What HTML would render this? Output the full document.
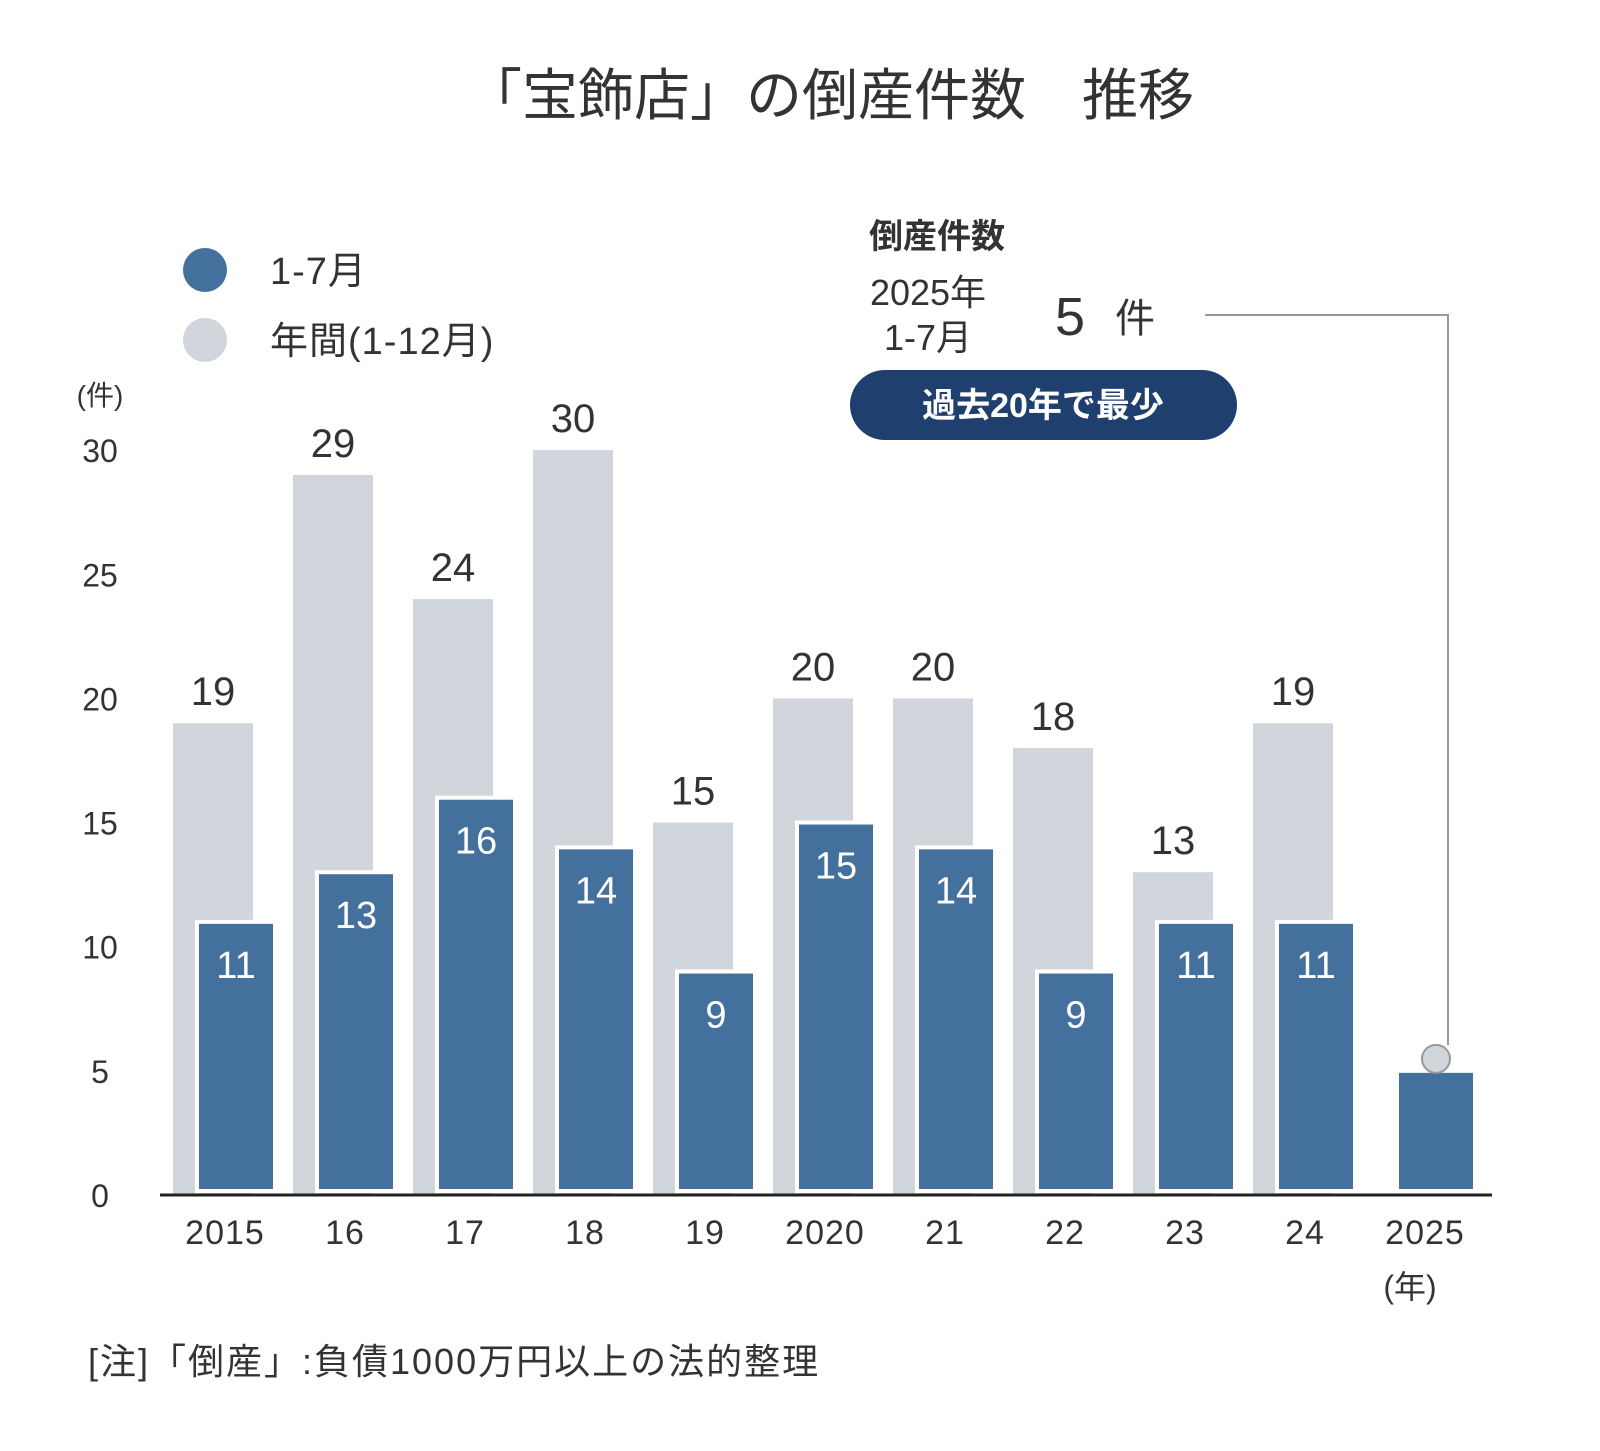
<!DOCTYPE html>
<html><head><meta charset="utf-8">
<style>
body{margin:0;background:#fff;}
svg text{font-family:"Liberation Sans","Noto Sans CJK JP",sans-serif;}
</style></head>
<body>
<svg id="chart" width="1600" height="1446" viewBox="0 0 1600 1446" xmlns="http://www.w3.org/2000/svg">
<text x="830" y="115" font-size="56" text-anchor="middle" fill="#333">「宝飾店」の倒産件数　推移</text>
<g>
<circle cx="205" cy="270" r="22" fill="#44709d"/>
<text x="270" y="284" font-size="38" letter-spacing="1" fill="#333">1-7月</text>
<circle cx="205" cy="340" r="22" fill="#d0d6dc"/>
<text x="270" y="354" font-size="38" letter-spacing="1" fill="#333">年間(1-12月)</text>
</g>
<text x="100" y="405" font-size="28" text-anchor="middle" fill="#333">(件)</text>
<g id="yticks"></g>
<g id="bars"></g>
<line x1="160" y1="1195" x2="1492" y2="1195" stroke="#222" stroke-width="3"/>
<g id="xticks"></g>
<text x="1410" y="1298" font-size="32" text-anchor="middle" fill="#333">(年)</text>
<g>
<text x="937" y="248" font-size="34" font-weight="bold" text-anchor="middle" fill="#333">倒産件数</text>
<text x="928" y="305" font-size="36" text-anchor="middle" fill="#333">2025年</text>
<text x="928" y="350" font-size="36" text-anchor="middle" fill="#333">1-7月</text>
<text x="1070" y="335" font-size="54" text-anchor="middle" fill="#333">5</text>
<text x="1135" y="332" font-size="40" text-anchor="middle" fill="#333">件</text>
<rect x="850" y="370" width="387" height="70" rx="35" fill="#1f3f6e"/>
<text x="1043" y="417" font-size="34" font-weight="bold" text-anchor="middle" fill="#fff">過去20年で最少</text>
<polyline points="1205,315 1448,315 1448,1045" fill="none" stroke="#999" stroke-width="2"/>
</g>
<text x="88" y="1374" font-size="36" letter-spacing="2" fill="#333">[注]「倒産」:負債1000万円以上の法的整理</text>
</svg>
<script>
const categories=["2015","16","17","18","19","2020","21","22","23","24","2025"];
const annual=[19,29,24,30,15,20,20,18,13,19,null];
const janJul=[11,13,16,14,9,15,14,9,11,11,5];
const yTicks=[0,5,10,15,20,25,30];
const NS="http://www.w3.org/2000/svg";
function y(v){return 1195-v*24.83;}
function xi(i){return 173+i*120;}
function mk(tag,attrs,parent,text){const e=document.createElementNS(NS,tag);for(const k in attrs)e.setAttribute(k,attrs[k]);if(text!=null)e.textContent=text;parent.appendChild(e);return e;}
const yt=document.getElementById('yticks'),bars=document.getElementById('bars'),xt=document.getElementById('xticks');
yTicks.forEach(t=>{const e=mk('text',{x:100,y:y(t)+12,'font-size':32,'text-anchor':'middle',fill:'#333'},yt,t);

});
categories.forEach((c,i)=>{
 const x=xi(i);
 if(annual[i]!=null){
  const r=mk('rect',{x:x,y:y(annual[i]),width:80,height:y(0)-y(annual[i]),fill:'#d0d6dc'},bars);
  
  
  const t=mk('text',{x:x+40,y:y(annual[i])-18,'font-size':40,'text-anchor':'middle',fill:'#333'},bars,annual[i]);
  
  
 }
 const b=mk('rect',{x:x+24,y:y(janJul[i]),width:78,height:y(0)-y(janJul[i])-4,fill:'#44709d',stroke:'#fff','stroke-width':4},bars);
 
 
 if(annual[i]!=null){
  const t=mk('text',{x:x+63,y:y(janJul[i])+56,'font-size':38,'text-anchor':'middle',fill:'#fff'},bars,janJul[i]);
  
  
 }else{
  const m=mk('circle',{cx:x+63,cy:y(janJul[i])-12,r:14,fill:'#d0d6dc',stroke:'#999','stroke-width':2},bars);
  
  
 }
 const l=mk('text',{x:x+52,y:1244,'font-size':34,'letter-spacing':1,'text-anchor':'middle',fill:'#333'},xt,c);
 
 
});
</script>
</body></html>
